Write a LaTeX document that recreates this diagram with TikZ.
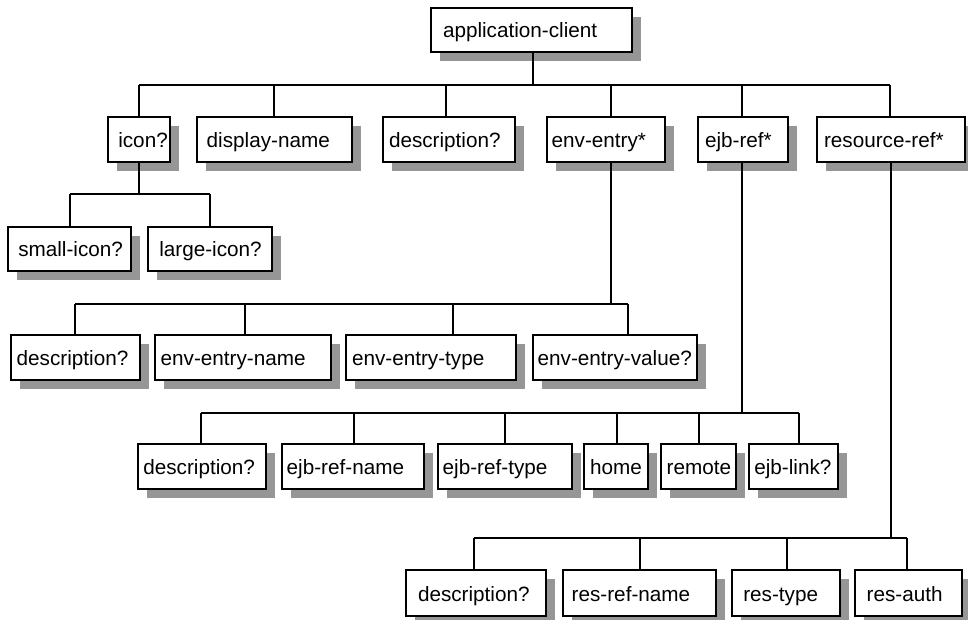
\documentclass[tikz,border=0pt]{standalone}
\usepackage{fontspec}
\setmainfont{Liberation Sans}
\usetikzlibrary{shadows}
\definecolor{shadowgray}{RGB}{150,150,150}
\tikzset{
  box/.style={draw=black, fill=white, line width=2pt, rectangle, inner xsep=0pt, inner ysep=0pt,
    align=left, text height=16pt, text depth=0pt,
    font=\fontsize{20.7}{24}\selectfont,
    drop shadow={shadow xshift=9pt, shadow yshift=-9pt, fill=shadowgray, opacity=1}},
  link/.style={draw=black, line width=2pt}
}
\newcommand\mybox[7]{%
  \pgfmathsetmacro\bw{#4-#2-2}%
  \pgfmathsetmacro\bh{#5-#3-2}%
  \pgfmathsetmacro\bp{#6-1}%
  \node[box, minimum width=\bw pt, text width=\bw pt, minimum height=\bh pt] (#1) at ({(#2+#4)/2},{(#3+#5)/2}) {\hspace*{\bp pt}#7};}
\begin{document}
\begin{tikzpicture}[x=1pt,y=-1pt]
\useasboundingbox (0,0) rectangle (968,620);
% root
\mybox{root}{430}{7}{633}{53}{13}{application-client}
% row 1
\mybox{icon}{106.7}{116.5}{171}{163}{11.6}{icon?}
\mybox{dname}{196}{116.5}{353.3}{163}{10.7}{display-name}
\mybox{desc}{381.7}{116.5}{515.7}{163}{7.3}{description?}
\mybox{env}{546}{116.5}{666}{163}{5.7}{env-entry*}
\mybox{ejb}{697.3}{116.5}{789}{163}{7.7}{ejb-ref*}
\mybox{res}{815.7}{116.5}{966}{163}{8.3}{resource-ref*}
% row 2
\mybox{small}{7.3}{225.7}{132.3}{271.7}{11}{small-icon?}
\mybox{large}{147.3}{225.7}{273.3}{271.7}{12}{large-icon?}
% row 3
\mybox{edesc}{10}{334}{140.7}{381}{6.7}{description?}
\mybox{ename}{154}{334}{331.7}{381}{6.7}{env-entry-name}
\mybox{etype}{345}{334}{516.7}{381}{7}{env-entry-type}
\mybox{evalue}{532.3}{334}{698}{381}{5.4}{env-entry-value?}
% row 4
\mybox{jdesc}{136.7}{443.3}{267.3}{490}{6.6}{description?}
\mybox{jname}{281}{443.3}{425}{490}{5.7}{ejb-ref-name}
\mybox{jtype}{436.7}{443.3}{572.7}{490}{6}{ejb-ref-type}
\mybox{jhome}{583.3}{443.3}{649.3}{490}{6.7}{home}
\mybox{jremote}{660}{443.3}{737.3}{490}{6.7}{remote}
\mybox{jlink}{748.3}{443.3}{839}{490}{6}{ejb-link?}
% row 5
\mybox{rdesc}{405}{569.3}{546.7}{616.7}{13}{description?}
\mybox{rname}{561.7}{569.3}{717.3}{616.7}{10}{res-ref-name}
\mybox{rtype}{731}{569.3}{840.7}{616.7}{12.3}{res-type}
\mybox{rauth}{854.3}{569.3}{962.7}{616.7}{12.4}{res-auth}

% junctions
\coordinate (j-root) at (532.7,85);
\coordinate (j-icon) at (139,85);
\coordinate (j-dname) at (274,85);
\coordinate (j-desc) at (446,85);
\coordinate (j-env) at (610.7,85);
\coordinate (j-ejb) at (741.7,85);
\coordinate (j-res) at (890,85);

\coordinate (k-icon) at (139,194);
\coordinate (k-small) at (69.7,194);
\coordinate (k-large) at (210,194);

\coordinate (k-env) at (610.7,304);
\coordinate (k-edesc) at (75.3,304);
\coordinate (k-ename) at (245,304);
\coordinate (k-etype) at (452.7,304);
\coordinate (k-evalue) at (627.7,304);

\coordinate (k-ejb) at (742,413.3);
\coordinate (k-jdesc) at (201,413.3);
\coordinate (k-jname) at (354,413.3);
\coordinate (k-jtype) at (505,413.3);
\coordinate (k-jhome) at (617.3,413.3);
\coordinate (k-jremote) at (699.3,413.3);
\coordinate (k-jlink) at (799.3,413.3);

\coordinate (k-res) at (891,538.3);
\coordinate (k-rdesc) at (474,538.3);
\coordinate (k-rname) at (640,538.3);
\coordinate (k-rtype) at (787.3,538.3);
\coordinate (k-rauth) at (906.7,538.3);

% root tree
\draw[link] (j-root |- root.south) -- (j-root);
\draw[link] (j-icon) -- (j-res);
\foreach \c in {icon,dname,desc,env,ejb,res}
  \draw[link] (j-\c) -- (j-\c |- \c.north);
% icon tree
\draw[link] (k-icon |- icon.south) -- (k-icon);
\draw[link] (k-small) -- (k-large);
\foreach \c in {small,large}
  \draw[link] (k-\c) -- (k-\c |- \c.north);
% env-entry tree
\draw[link] (k-env |- env.south) -- (k-env);
\draw[link] (k-edesc) -- (k-evalue);
\foreach \c in {edesc,ename,etype,evalue}
  \draw[link] (k-\c) -- (k-\c |- \c.north);
% ejb-ref tree
\draw[link] (k-ejb |- ejb.south) -- (k-ejb);
\draw[link] (k-jdesc) -- (k-jlink);
\foreach \c in {jdesc,jname,jtype,jhome,jremote,jlink}
  \draw[link] (k-\c) -- (k-\c |- \c.north);
% resource-ref tree
\draw[link] (k-res |- res.south) -- (k-res);
\draw[link] (k-rdesc) -- (k-rauth);
\foreach \c in {rdesc,rname,rtype,rauth}
  \draw[link] (k-\c) -- (k-\c |- \c.north);
\end{tikzpicture}
\end{document}
